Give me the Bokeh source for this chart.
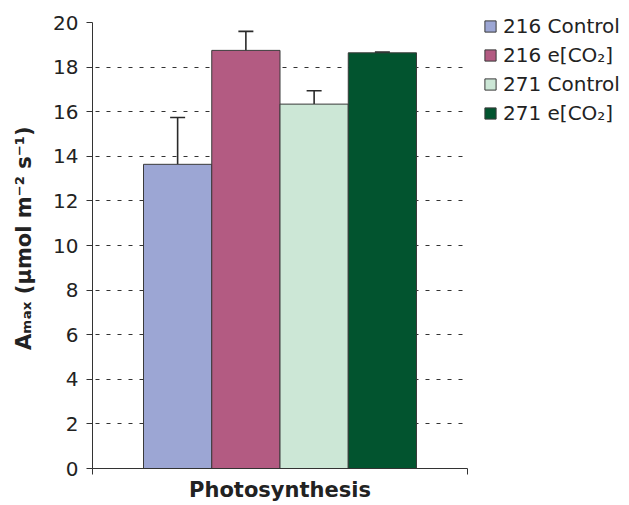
from bokeh.plotting import figure
from bokeh.models import (ColumnDataSource, Range1d, FixedTicker, Whisker, TeeHead,
                          Legend, LegendItem)
from bokeh.embed import file_html
from bokeh.resources import INLINE

# Light-saturated photosynthesis (Amax) per treatment
series = ["216 Control", "216 e[CO₂]", "271 Control", "271 e[CO₂]"]
amax = [13.64, 18.75, 16.34, 18.64]
amax_err = [2.10, 0.85, 0.60, 0.03]
colors = ["#9CA6D4", "#B35B82", "#CCE7D6", "#02542F"]
y_ticks = [0, 2, 4, 6, 8, 10, 12, 14, 16, 18, 20]
group_label = "Photosynthesis"

bar_w = 0.182
n = len(series)
xs = [0.5 + (i - (n - 1) / 2) * bar_w for i in range(n)]

p = figure(frame_width=375, frame_height=446, x_range=Range1d(0, 1), y_range=Range1d(0, 20),
           output_backend="svg", toolbar_location=None,
           min_border_left=92, min_border_right=162, min_border_top=22, min_border_bottom=37)
p.outline_line_color = None
p.background_fill_color = "white"
p.border_fill_color = "white"

items = []
for i in range(n):
    src = ColumnDataSource(dict(x=[xs[i]], top=[amax[i]], upper=[amax[i] + amax_err[i]]))
    r = p.vbar(x="x", top="top", bottom=0, width=bar_w, source=src,
               fill_color=colors[i], line_color="#3a3a3a", line_width=1)
    w = Whisker(base="x", lower="top", upper="upper", source=src,
                line_color="#2a2a2a", line_width=1.6,
                upper_head=TeeHead(size=15, line_color="#2a2a2a", line_width=1.6),
                lower_head=None)
    p.add_layout(w)
    items.append(LegendItem(label=series[i], renderers=[r]))

# y axis
yax = p.yaxis[0]
yax.ticker = FixedTicker(ticks=y_ticks)
yax.minor_tick_line_color = None
yax.major_tick_in = 0
yax.major_tick_out = 6
yax.major_label_standoff = 8
yax.major_label_text_font = "DejaVu Sans"
yax.major_label_text_font_size = "20px"
yax.major_label_text_color = "#222222"
yax.axis_line_color = "#333333"
yax.major_tick_line_color = "#333333"
# leading no-break spaces nudge the rotated title towards the top
yax.axis_label = "\u00a0\u00a0Aₘₐₓ (µmol m⁻² s⁻¹)"
yax.axis_label_text_font = "DejaVu Sans"
yax.axis_label_text_font_style = "bold"
yax.axis_label_text_font_size = "21px"
yax.axis_label_text_color = "#222222"
yax.axis_label_standoff = 14

# x axis: single category group
xax = p.xaxis[0]
xax.ticker = FixedTicker(ticks=[0, 1])
xax.major_label_overrides = {0: "", 1: ""}
xax.major_label_text_font_size = "1px"
xax.major_label_standoff = 0
xax.minor_tick_line_color = None
xax.major_tick_in = 0
xax.major_tick_out = 6
xax.axis_line_color = "#333333"
xax.major_tick_line_color = "#333333"
xax.axis_label = group_label
xax.axis_label_text_font = "DejaVu Sans"
xax.axis_label_text_font_style = "bold"
xax.axis_label_text_font_size = "21px"
xax.axis_label_text_color = "#222222"
xax.axis_label_standoff = 3

p.xgrid.visible = False
p.ygrid.ticker = FixedTicker(ticks=y_ticks)
p.ygrid.grid_line_color = "#333333"
p.ygrid.grid_line_dash = "4 7"
p.ygrid.grid_line_dash_offset = -3
p.ygrid.grid_line_width = 1

legend = Legend(items=items, location=(16, 343), orientation="vertical",
                margin=0, padding=0, spacing=5, label_standoff=6,
                glyph_width=14, glyph_height=14, label_height=24,
                label_text_font="DejaVu Sans", label_text_font_size="20px",
                label_text_color="#222222",
                border_line_color=None, background_fill_alpha=0)
p.add_layout(legend, "right")

open("out.html", "w").write(file_html(p, INLINE))
